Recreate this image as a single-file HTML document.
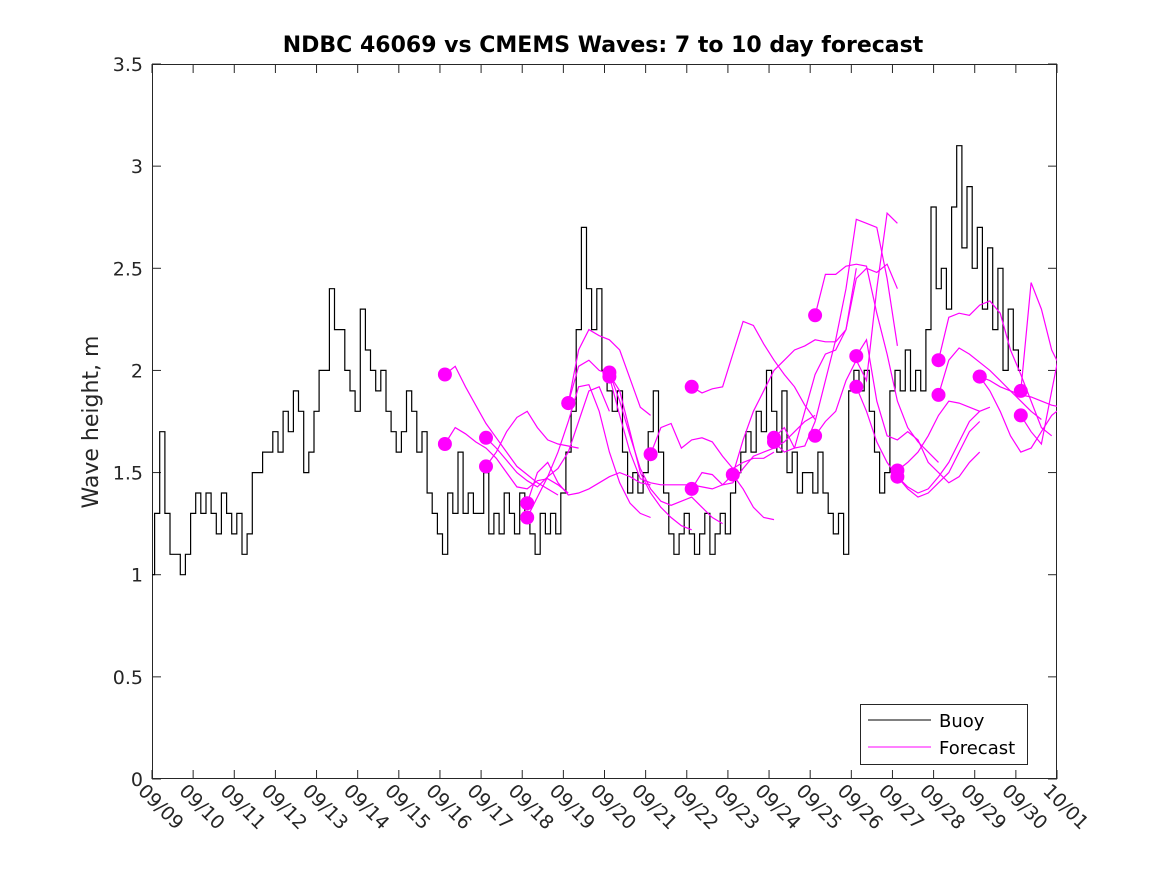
<!DOCTYPE html>
<html><head><meta charset="utf-8">
<style>
html,body{margin:0;padding:0;background:#fff;}
svg{display:block;font-family:"DejaVu Sans","Liberation Sans",sans-serif;}
</style></head>
<body>
<svg id="chart" width="1167" height="875" viewBox="0 0 1167 875" xmlns="http://www.w3.org/2000/svg">
<rect x="0" y="0" width="1167" height="875" fill="#fff"/>
<defs><clipPath id="plotclip"><rect x="152" y="64" width="905" height="715"/></clipPath></defs>
<text x="603" y="52" text-anchor="middle" font-size="22" font-weight="bold" fill="#000">NDBC 46069 vs CMEMS Waves: 7 to 10 day forecast</text>
<text transform="translate(98,422) rotate(-90)" text-anchor="middle" font-size="22" fill="#262626">Wave height, m</text>
<g id="axes"></g>
<g id="series" clip-path="url(#plotclip)"></g>
<g>
<rect x="860.5" y="704.5" width="167" height="60" fill="#fff" stroke="#262626" stroke-width="1"/>
<line x1="868" y1="720" x2="931" y2="720" stroke="#000" stroke-width="1"/>
<text x="939" y="727" font-size="18" fill="#000">Buoy</text>
<line x1="868" y1="747" x2="931" y2="747" stroke="#ff00ff" stroke-width="1"/>
<text x="939" y="754" font-size="18" fill="#000">Forecast</text>
</g>
</svg>
<script>
// ---- data ----
const xTickLabels = ["09/09","09/10","09/11","09/12","09/13","09/14","09/15","09/16","09/17","09/18","09/19","09/20","09/21","09/22","09/23","09/24","09/25","09/26","09/27","09/28","09/29","09/30","10/01"];
const yTickValues = [0,0.5,1,1.5,2,2.5,3,3.5];
const yTickLabels = ["0","0.5","1","1.5","2","2.5","3","3.5"];
const buoyStep = 0.125; // days between buoy samples
const buoyValues = [
1.0,1.3,1.7,1.3,1.1,1.1,1.0,1.1,
1.3,1.4,1.3,1.4,1.3,1.2,1.4,1.3,
1.2,1.3,1.1,1.2,1.5,1.5,1.6,1.6,
1.7,1.6,1.8,1.7,1.9,1.8,1.5,1.6,
1.8,2.0,2.0,2.4,2.2,2.2,2.0,1.9,
1.8,2.3,2.1,2.0,1.9,2.0,1.8,1.7,
1.6,1.7,1.9,1.8,1.6,1.7,1.4,1.3,
1.2,1.1,1.4,1.3,1.6,1.3,1.4,1.3,
1.3,1.5,1.2,1.3,1.2,1.4,1.3,1.2,
1.4,1.3,1.2,1.1,1.3,1.2,1.3,1.2,
1.4,1.6,1.8,2.2,2.7,2.4,2.2,2.4,
2.0,1.9,1.8,1.9,1.6,1.4,1.5,1.4,
1.5,1.7,1.9,1.6,1.4,1.2,1.1,1.2,
1.3,1.2,1.1,1.2,1.3,1.1,1.2,1.3,
1.2,1.4,1.5,1.6,1.7,1.6,1.8,1.7,
2.0,1.8,1.6,1.9,1.5,1.6,1.4,1.5,
1.5,1.4,1.6,1.4,1.3,1.2,1.3,1.1,
1.9,2.0,1.9,2.0,1.8,1.6,1.4,1.5,
1.9,2.0,1.9,2.1,1.9,2.0,1.9,2.2,
2.8,2.4,2.5,2.3,2.8,3.1,2.6,2.9,
2.5,2.7,2.3,2.6,2.2,2.5,2.0,2.3,
2.1,2.0];
const fcStep = 0.25; // days between forecast samples
const fcStarts = [7.12,7.12,8.12,8.12,9.12,9.12,10.12,10.12,11.12,11.12,12.12,13.12,13.12,14.12,15.12,15.12,16.12,16.12,17.12,17.12,18.12,18.12,19.12,19.12,20.12,20.12,21.12,21.12];
const fc0 = [1.98,2.02,1.92,1.83,1.74,1.67,1.60,1.53,1.49,1.45,1.42,1.39];
const fc1 = [1.64,1.72,1.69,1.65,1.62,1.57,1.50,1.43,1.42,1.46,1.47,1.44,1.40];
const fc2 = [1.67,1.62,1.56,1.50,1.46,1.43,1.48,1.52,1.60,1.75,1.90,1.92,1.80];
const fc3 = [1.53,1.60,1.70,1.77,1.80,1.72,1.66,1.64,1.63,1.62];
const fc4 = [1.35,1.50,1.55,1.45,1.39,1.40,1.42,1.45,1.48,1.50,1.48,1.45,1.44];
const fc5 = [1.28,1.38,1.48,1.60,1.75,1.92,1.93,1.80,1.60,1.45,1.35,1.30,1.28];
const fc6 = [1.84,2.10,2.20,2.17,2.15,2.10,1.96,1.82,1.78];
const fc7 = [1.84,2.02,2.05,2.00,1.98,1.90,1.70,1.50,1.40,1.33,1.28,1.24,1.22];
const fc8 = [1.99,1.85,1.68,1.52,1.42,1.36,1.34,1.36,1.38,1.33,1.28,1.25];
const fc9 = [1.97,1.78,1.60,1.47,1.45,1.44,1.44,1.44,1.44,1.43,1.42,1.44,1.49,1.42,1.33,1.28,1.27];
const fc10 = [1.59,1.72,1.74,1.62,1.66,1.67,1.65,1.58,1.52,1.55,1.57,1.57,1.60];
const fc11 = [1.92,1.89,1.91,1.92,2.08,2.24,2.22,2.13,2.05,1.98,1.92,1.83,1.76];
const fc12 = [1.42,1.50,1.49,1.44,1.45,1.52,1.58,1.60,1.62,1.65,1.70,1.75,1.78];
const fc13 = [1.49,1.66,1.80,1.90,2.00,2.05,2.10,2.12,2.15,2.14,2.14,2.20,2.50];
const fc14 = [1.67,1.72,1.62,1.63,1.75,1.95,2.15,2.40,2.74,2.72,2.70,2.45,2.12];
const fc15 = [1.65,1.60,1.62,1.80,1.98,2.08,2.10,2.20,2.45,2.50,2.48,2.52,2.40];
const fc16 = [2.27,2.47,2.47,2.51,2.52,2.51,2.28,2.08,1.85,1.72,1.65,1.60,1.55];
const fc17 = [1.68,1.75,1.80,1.95,2.05,1.95,2.40,2.77,2.72];
const fc18 = [2.07,2.15,1.85,1.68,1.66,1.70,1.66,1.55,1.50,1.45,1.48,1.55,1.60];
const fc19 = [1.92,1.80,1.65,1.55,1.48,1.42,1.38,1.40,1.45,1.50,1.60,1.70,1.75];
const fc20 = [1.51,1.55,1.60,1.68,1.78,1.85,1.84,1.82,1.80];
const fc21 = [1.48,1.43,1.40,1.42,1.48,1.55,1.65,1.75,1.80,1.82];
const fc22 = [2.05,2.26,2.28,2.27,2.32,2.34,2.28,2.10,1.98,1.85,1.72,1.68];
const fc23 = [1.88,2.05,2.11,2.08,2.04,2.00,1.95,1.90,1.85,1.80,1.76];
const fc24 = [1.97,1.90,1.80,1.68,1.60,1.62,1.70,1.78,1.82];
const fc25 = [1.97,1.95,1.92,1.90,1.88,1.87,1.85,1.83,1.82];
const fc26 = [1.90,2.43,2.30,2.10,2.00];
const fc27 = [1.78,1.70,1.64,1.90,2.15];
const fcSeries = [fc0,fc1,fc2,fc3,fc4,fc5,fc6,fc7,fc8,fc9,fc10,fc11,fc12,fc13,fc14,fc15,fc16,fc17,fc18,fc19,fc20,fc21,fc22,fc23,fc24,fc25,fc26,fc27];

// ---- axes ----
const NS = "http://www.w3.org/2000/svg";
const L = 152, R = 1057, T = 64, B = 779;
const X_MAX = 22, Y_MAX = 3.5;
function xScale(d){ return L + d/X_MAX*(R-L); }
function yScale(v){ return B - v/Y_MAX*(B-T); }
function mk(tag, attrs, parent){ const e=document.createElementNS(NS,tag); for(const k in attrs) e.setAttribute(k,attrs[k]); parent.appendChild(e); return e; }

const axes = document.getElementById('axes');
const series = document.getElementById('series');

xTickLabels.forEach((lab,i)=>{
  const x = xScale(i);
  const t1 = mk('line',{x1:x,y1:B,x2:x,y2:B-9,stroke:'#262626','stroke-width':1},axes);
  
  
  const t2 = mk('line',{x1:x,y1:T,x2:x,y2:T+9,stroke:'#262626','stroke-width':1},axes);
  
  
  const tx = mk('text',{x:0,y:0,'font-size':19,fill:'#262626',transform:`translate(${x-15},${B+13}) rotate(45)`},axes);
  tx.textContent = lab;
  
  
});
yTickValues.forEach((v,i)=>{
  const y = yScale(v);
  const t1 = mk('line',{x1:L,y1:y,x2:L+9,y2:y,stroke:'#262626','stroke-width':1},axes);
  
  
  const t2 = mk('line',{x1:R,y1:y,x2:R-9,y2:y,stroke:'#262626','stroke-width':1},axes);
  
  
  const tx = mk('text',{x:L-9,y:y+7,'font-size':19,fill:'#262626','text-anchor':'end'},axes);
  tx.textContent = yTickLabels[i];
  
  
});
const frame = mk('rect',{x:L+0.5,y:T+0.5,width:R-L-1,height:B-T-1,fill:'none',stroke:'#262626','stroke-width':1},axes);



// ---- buoy (stair line) ----
let d = '';
buoyValues.forEach((v,i)=>{
  const x = xScale(i*buoyStep), y = yScale(v);
  if(i===0) d += `M${x.toFixed(1)},${y.toFixed(1)}`;
  else { const xp = xScale((i-0.5)*buoyStep); const yp = yScale(buoyValues[i-1]);
    d += `L${xp.toFixed(1)},${yp.toFixed(1)}L${xp.toFixed(1)},${y.toFixed(1)}L${x.toFixed(1)},${y.toFixed(1)}`; }
});
const bl = mk('path',{d:d,fill:'none',stroke:'#000','stroke-width':1.2},series);



// ---- forecasts ----
fcSeries.forEach((vals,k)=>{
  const s = fcStarts[k];
  const pts = vals.map((v,j)=>`${xScale(s+j*fcStep).toFixed(1)},${yScale(v).toFixed(1)}`).join(' ');
  const pl = mk('polyline',{points:pts,fill:'none',stroke:'#ff00ff','stroke-width':1.2},series);
  
  
});
fcSeries.forEach((vals,k)=>{
  const c = mk('circle',{cx:xScale(fcStarts[k]).toFixed(1),cy:yScale(vals[0]).toFixed(1),r:7,fill:'#ff00ff'},series);
  
  
});
</script>
</body></html>
